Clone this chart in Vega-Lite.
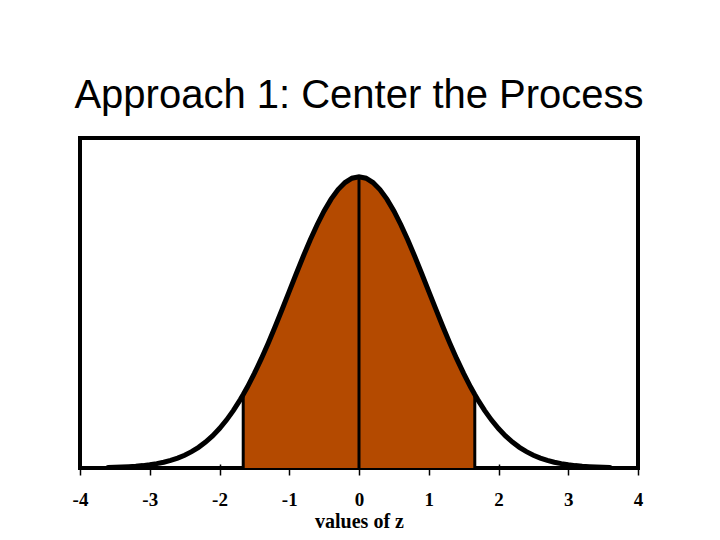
{
  "$schema": "https://vega.github.io/schema/vega-lite/v6.json",
  "width": 558,
  "height": 330,
  "autosize": {"type": "none"},
  "padding": {"left": 80, "top": 138, "right": 82, "bottom": 72},
  "background": "white",
  "title": {
    "text": "Approach 1: Center the Process",
    "font": "Liberation Sans",
    "fontSize": 40,
    "fontWeight": "normal",
    "color": "black",
    "anchor": "middle",
    "offset": 22
  },
  "config": {
    "view": {"stroke": "black", "strokeWidth": 4},
    "axisX": {
      "titleFont": "Liberation Serif",
      "titleFontSize": 20,
      "titleFontWeight": "bold",
      "titleColor": "black",
      "titlePadding": 2,
      "labelFont": "Liberation Serif",
      "labelFontSize": 19,
      "labelFontWeight": "bold",
      "labelColor": "black",
      "labelPadding": 15,
      "labelFlush": false,
      "domain": false,
      "grid": false,
      "ticks": true,
      "tickColor": "black",
      "tickWidth": 1.5,
      "tickSize": 11
    }
  },
  "data": {
    "values": [
      {"z": -3.6, "d": 0.00061}, {"z": -3.5, "d": 0.00087}, {"z": -3.4, "d": 0.00123},
      {"z": -3.3, "d": 0.00172}, {"z": -3.2, "d": 0.00238}, {"z": -3.1, "d": 0.00327},
      {"z": -3.0, "d": 0.00443}, {"z": -2.9, "d": 0.00595}, {"z": -2.8, "d": 0.00792},
      {"z": -2.7, "d": 0.01042}, {"z": -2.6, "d": 0.01358}, {"z": -2.5, "d": 0.01753},
      {"z": -2.4, "d": 0.02239}, {"z": -2.3, "d": 0.02833}, {"z": -2.2, "d": 0.03547},
      {"z": -2.1, "d": 0.04398}, {"z": -2.0, "d": 0.05399}, {"z": -1.9, "d": 0.06562},
      {"z": -1.8, "d": 0.07895}, {"z": -1.7, "d": 0.09405}, {"z": -1.66, "d": 0.10059},
      {"z": -1.6, "d": 0.11092}, {"z": -1.5, "d": 0.12952}, {"z": -1.4, "d": 0.14973},
      {"z": -1.3, "d": 0.17137}, {"z": -1.2, "d": 0.19419}, {"z": -1.1, "d": 0.21785},
      {"z": -1.0, "d": 0.24197}, {"z": -0.9, "d": 0.26609}, {"z": -0.8, "d": 0.28969},
      {"z": -0.7, "d": 0.31225}, {"z": -0.6, "d": 0.33322}, {"z": -0.5, "d": 0.35207},
      {"z": -0.4, "d": 0.36827}, {"z": -0.3, "d": 0.38139}, {"z": -0.2, "d": 0.39104},
      {"z": -0.1, "d": 0.39695}, {"z": 0.0, "d": 0.39894}, {"z": 0.1, "d": 0.39695},
      {"z": 0.2, "d": 0.39104}, {"z": 0.3, "d": 0.38139}, {"z": 0.4, "d": 0.36827},
      {"z": 0.5, "d": 0.35207}, {"z": 0.6, "d": 0.33322}, {"z": 0.7, "d": 0.31225},
      {"z": 0.8, "d": 0.28969}, {"z": 0.9, "d": 0.26609}, {"z": 1.0, "d": 0.24197},
      {"z": 1.1, "d": 0.21785}, {"z": 1.2, "d": 0.19419}, {"z": 1.3, "d": 0.17137},
      {"z": 1.4, "d": 0.14973}, {"z": 1.5, "d": 0.12952}, {"z": 1.6, "d": 0.11092},
      {"z": 1.66, "d": 0.10059}, {"z": 1.7, "d": 0.09405}, {"z": 1.8, "d": 0.07895},
      {"z": 1.9, "d": 0.06562}, {"z": 2.0, "d": 0.05399}, {"z": 2.1, "d": 0.04398},
      {"z": 2.2, "d": 0.03547}, {"z": 2.3, "d": 0.02833}, {"z": 2.4, "d": 0.02239},
      {"z": 2.5, "d": 0.01753}, {"z": 2.6, "d": 0.01358}, {"z": 2.7, "d": 0.01042},
      {"z": 2.8, "d": 0.00792}, {"z": 2.9, "d": 0.00595}, {"z": 3.0, "d": 0.00443},
      {"z": 3.1, "d": 0.00327}, {"z": 3.2, "d": 0.00238}, {"z": 3.3, "d": 0.00172},
      {"z": 3.4, "d": 0.00123}, {"z": 3.5, "d": 0.00087}, {"z": 3.6, "d": 0.00061}
    ]
  },
  "encoding": {
    "x": {
      "field": "z",
      "type": "quantitative",
      "scale": {"domain": [-4, 4], "nice": false, "zero": false},
      "axis": {
        "values": [-4, -3, -2, -1, 0, 1, 2, 3, 4],
        "labelExpr": "'' + datum.value",
        "offset": -4,
        "title": "values of z"
      }
    },
    "y": {
      "field": "d",
      "type": "quantitative",
      "scale": {"domain": [0, 0.452], "nice": false},
      "axis": null
    }
  },
  "layer": [
    {
      "transform": [{"filter": "datum.z >= -1.661 && datum.z <= 1.661"}],
      "mark": {"type": "area", "color": "#b44a00", "opacity": 1}
    },
    {
      "transform": [{"filter": "datum.z == -1.66 || datum.z == 0 || datum.z == 1.66"}],
      "mark": {"type": "rule", "color": "black", "strokeWidth": 3},
      "encoding": {"y2": {"datum": 0}}
    },
    {
      "mark": {"type": "line", "color": "black", "strokeWidth": 5, "strokeCap": "round"}
    }
  ]
}
